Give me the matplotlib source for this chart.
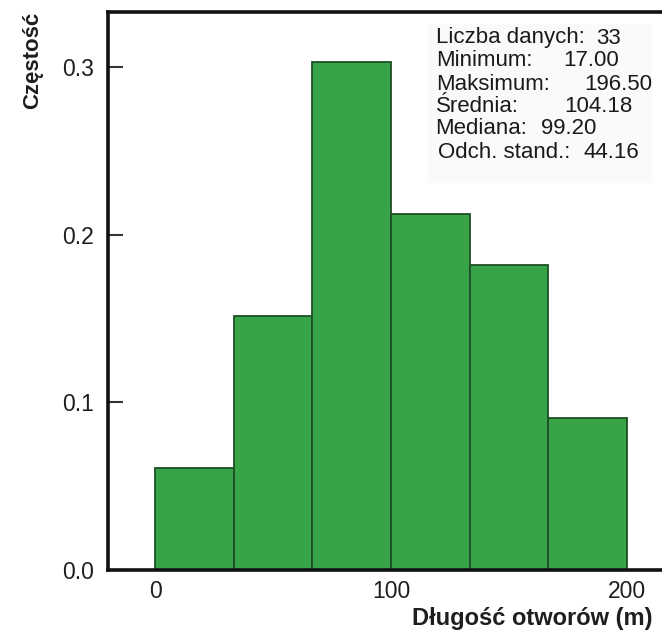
import numpy as np
import matplotlib
matplotlib.use("Agg")
import matplotlib.pyplot as plt

# ---- data ----
bin_edges = [0, 33.33, 66.67, 100, 133.33, 166.67, 200]
counts = [2, 5, 10, 7, 6, 3]
n_total = 33
y_ticks = [0.0, 0.1, 0.2, 0.3]
x_ticks = [0, 100, 200]
stat_labels = ["Liczba danych:", "Minimum:", "Maksimum:", "Średnia:", "Mediana:", "Odch. stand.:"]
stat_values = ["33", "17.00", "196.50", "104.18", "99.20", "44.16"]
x_label = "Długość otworów (m)"
y_label = "Częstość"

plt.rcParams['font.family'] = ['Liberation Sans', 'DejaVu Sans']

W, H = 662, 633
fig = plt.figure(figsize=(W / 100, H / 100), dpi=100)
fig.patch.set_facecolor('white')

def px(x, y):
    return x / W, 1 - y / H

left, bottom = px(108, 570)
_, top = px(108, 12)
ax = fig.add_axes([left, bottom, 1.0 - left + 0.01, top - bottom])

freq = np.array(counts) / n_total
edges = np.array(bin_edges)
ax.bar(edges[:-1], freq, width=np.diff(edges), align='edge',
       color='#37a547', edgecolor='#1d4f25', linewidth=1.3, zorder=2)

ax.set_xlim(-20, 217.6)
ax.set_ylim(0, 0.3327)

for s in ['left', 'bottom', 'top']:
    ax.spines[s].set_linewidth(2.6)
    ax.spines[s].set_color('#111111')
ax.spines['right'].set_visible(False)

ax.set_yticks(y_ticks)
ax.set_yticklabels([f"{v:.1f}" for v in y_ticks])
ax.set_xticks(x_ticks)
ax.set_xticklabels([str(v) for v in x_ticks])
ax.tick_params(axis='y', direction='in', length=11, width=1.5, color='#333333',
               labelsize=16.5, pad=10, labelcolor='#1e1e1e')
ax.tick_params(axis='x', length=0, labelsize=16.5, pad=7, labelcolor='#1e1e1e')

# axis labels
fx, fy = px(652, 618)
fig.text(fx, fy, x_label, ha='right', va='center', fontsize=17,
         fontweight='bold', color='#1e1e1e')
fx, fy = px(33, 12)
fig.text(fx, fy, y_label, ha='center', va='top', rotation=90, fontsize=16,
         fontweight='bold', color='#1e1e1e')

# stats box
bx0, by0 = px(428, 183)
bx1, by1 = px(652, 24)
fig.patches.append(plt.Rectangle((bx0, by0), bx1 - bx0, by1 - by0,
                                 transform=fig.transFigure, facecolor='#fafafa',
                                 edgecolor='none', zorder=3))
line_y = [38, 61, 85, 107, 129, 152]
label_x = [436, 436, 436, 436, 435, 438]
value_x = [596, 563, 584, 564, 541, 584]
for lab, val, yy, lx, vx in zip(stat_labels, stat_values, line_y, label_x, value_x):
    x0, y0 = px(lx, yy)
    fig.text(x0, y0, lab, ha='left', va='center', fontsize=16, color='#1a1a1a', zorder=4)
    x1, _ = px(vx, yy)
    fig.text(x1, y0, val, ha='left', va='center', fontsize=16, color='#1a1a1a', zorder=4)

fig.savefig("out.png", dpi=100, facecolor='white')
